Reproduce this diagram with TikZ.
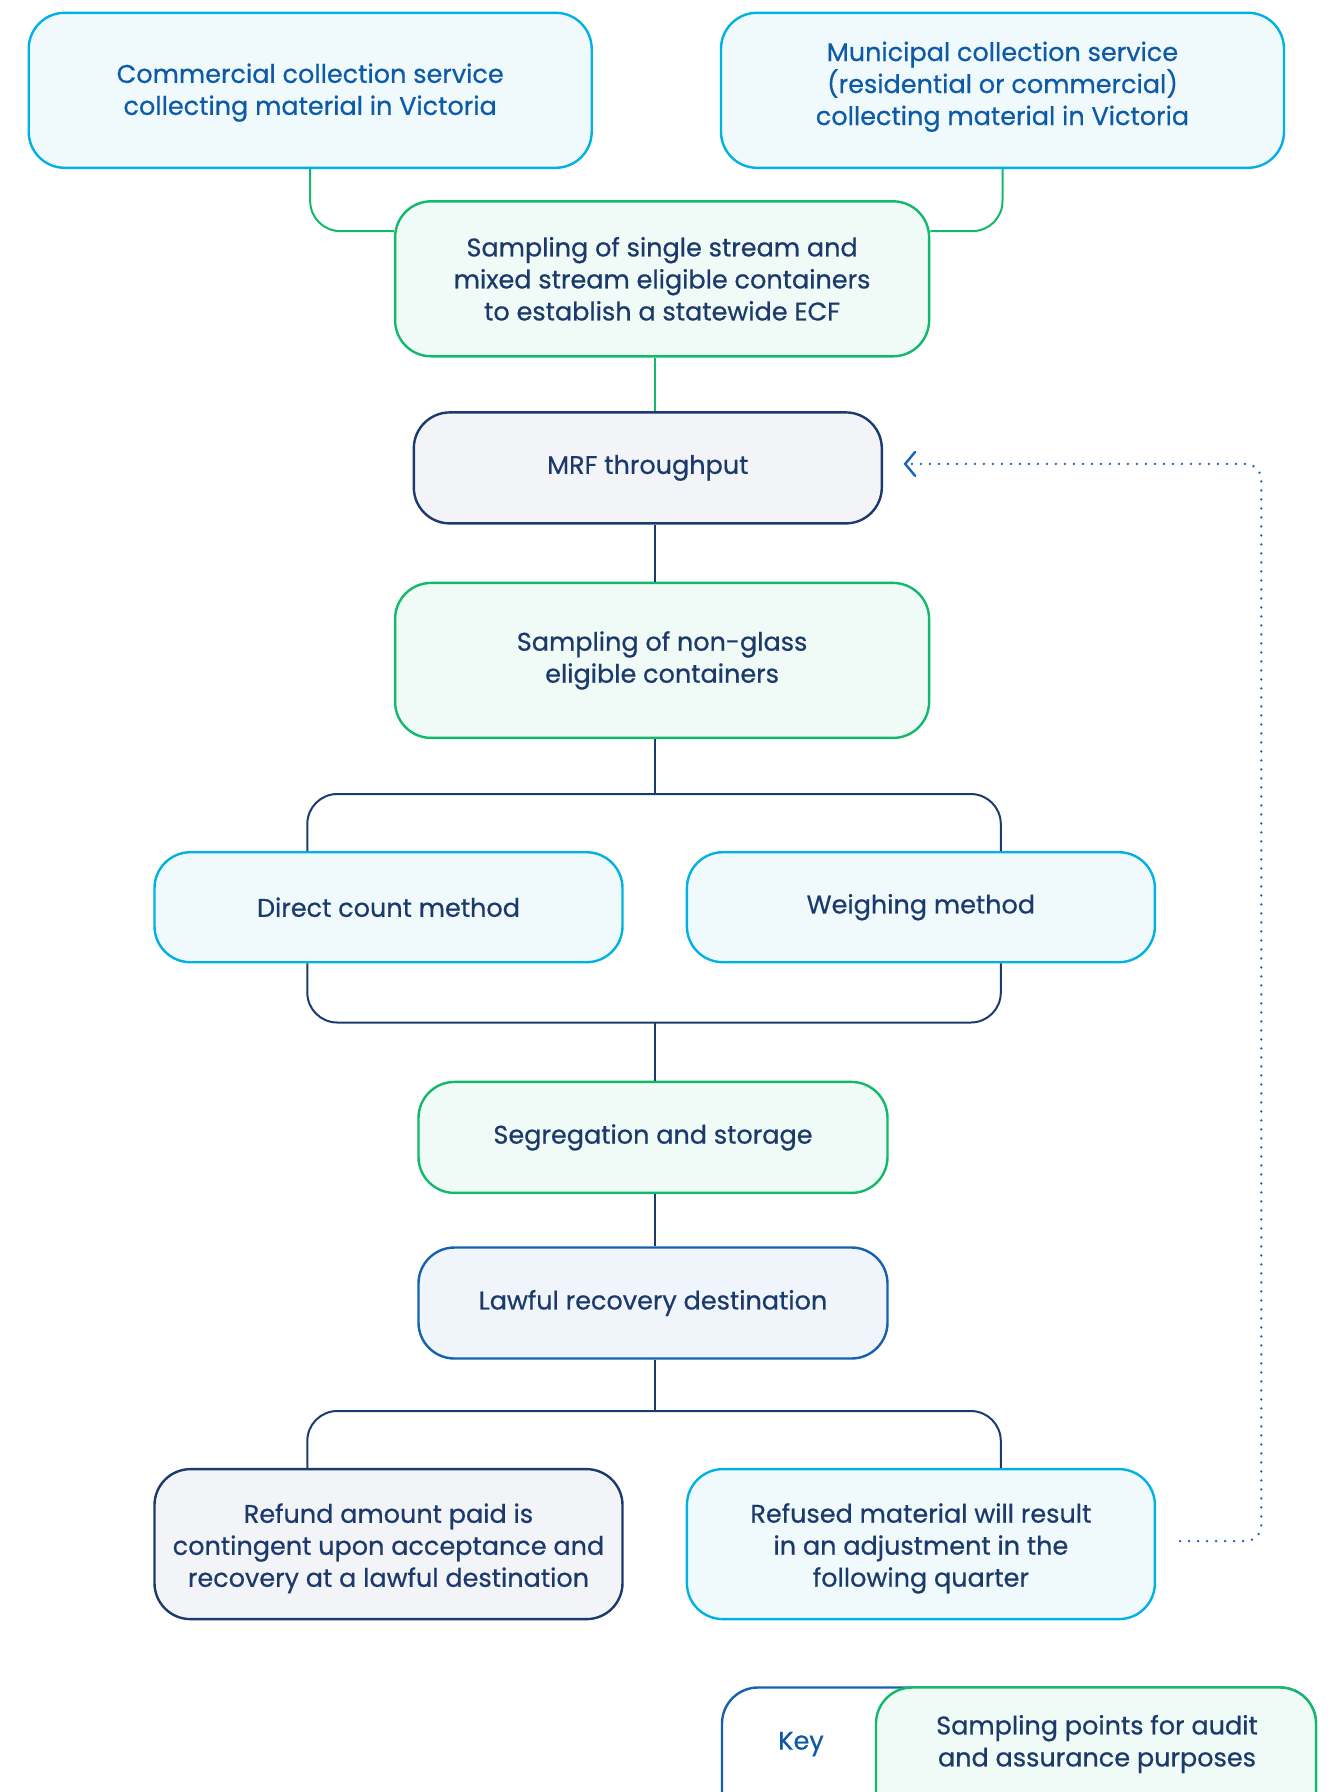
\documentclass[tikz,border=0pt]{standalone}
\usepackage{fontspec}
\setmainfont{Poppins}[FakeBold=0.6]
\usetikzlibrary{arrows.meta,calc}
\definecolor{cyanB}{HTML}{00B2E3}
\definecolor{cyanF}{HTML}{F0FAFD}
\definecolor{greenB}{HTML}{10BA6A}
\definecolor{greenF}{HTML}{F0FAF6}
\definecolor{navyB}{HTML}{1B3B6F}
\definecolor{navyF}{HTML}{F2F4F8}
\definecolor{blueB}{HTML}{1462B0}
\definecolor{blueF}{HTML}{EFF5FB}
\definecolor{txtN}{HTML}{1B3A6B}
\definecolor{txtB}{HTML}{0D5AA7}
\definecolor{dotB}{HTML}{1565C0}
\tikzset{
  box/.style={rounded corners=36pt, line width=2.4pt, align=center, inner sep=0pt,
    font=\fontsize{25.5}{32}\selectfont, text=txtN},
  cyanbox/.style={box, draw=cyanB, fill=cyanF},
  greenbox/.style={box, draw=greenB, fill=greenF},
  navybox/.style={box, draw=navyB, fill=navyF},
  bluebox/.style={box, draw=blueB, fill=blueF},
  conn/.style={draw=navyB, line width=2pt, rounded corners=30pt},
  gconn/.style={draw=greenB, line width=2pt, rounded corners=30pt},
  dotconn/.style={draw=dotB, line width=2.6pt, line cap=round, dash pattern=on 0pt off 9pt, rounded corners=16pt},
  lbl/.style={font=\fontsize{25.5}{32}\selectfont, text=txtN, align=center, inner sep=0pt}
}
\begin{document}
\begin{tikzpicture}[x=1pt,y=-1pt]
\useasboundingbox (0,0) rectangle (1331,1792);
% coordinates
\coordinate (trunk) at (654.6,0);
\coordinate (brL) at (307.3,0);
\coordinate (brR) at (1000.8,0);
\coordinate (xr) at (1261.3,0);
% boxes
\node[cyanbox, text=txtB, minimum width=563pt, minimum height=155pt] (com) at (310.2,90.3)
  {\rule{0pt}{24pt}Commercial collection service\\collecting material in Victoria};
\node[cyanbox, text=txtB, minimum width=563pt, minimum height=155pt] (mun) at (1002.5,90.3)
  {Municipal collection service\\(residential or commercial)\\collecting material in Victoria\rule[-14pt]{0pt}{14pt}};
\node[greenbox, minimum width=534pt, minimum height=155pt] (ss) at (662.1,278.8)
  {Sampling of single stream and\\mixed stream eligible containers\\to establish a statewide ECF};
\node[navybox, minimum width=468pt, minimum height=111pt] (mrf) at (647.8,467.9)
  {MRF throughput};
\node[greenbox, minimum width=534pt, minimum height=155pt] (ng) at (662.1,660.4)
  {Sampling of non-glass\\eligible containers};
\node[cyanbox, minimum width=468pt, minimum height=110pt] (dc) at (388.5,907.2)
  {Direct count method};
\node[cyanbox, minimum width=468pt, minimum height=110pt] (wm) at (920.9,907.2)
  {Weighing method};
\node[greenbox, minimum width=469pt, minimum height=111pt] (seg) at (653.0,1137.4)
  {Segregation and storage};
\node[bluebox, minimum width=469pt, minimum height=111pt] (law) at (653.0,1303.0)
  {Lawful recovery destination};
\node[navybox, minimum width=468pt, minimum height=150pt] (ref) at (388.5,1544.1)
  {\rule{0pt}{28pt}Refund amount paid is\\contingent upon acceptance and\\recovery at a lawful destination};
\node[cyanbox, minimum width=468pt, minimum height=150pt] (rfs) at (920.9,1544.1)
  {\rule{0pt}{28pt}Refused material will result\\in an adjustment in the\\following quarter};
% top connectors
\draw[gconn] (com.south) |- ($(ss.north west)+(0,31)$);
\draw[gconn] (mun.south) |- ($(ss.north east)+(0,31)$);
\draw[gconn, rounded corners=0pt] (ss.south -| trunk) -- (mrf.north -| trunk);
\draw[conn, rounded corners=0pt] (mrf.south -| trunk) -- (ng.north -| trunk);
% bracket 1
\coordinate (b1) at (654.6,794.0);
\draw[conn, rounded corners=0pt] (ng.south -| trunk) -- (b1);
\draw[conn] (dc.north -| brL) |- (b1) -| (wm.north -| brR);
% bracket 2
\coordinate (b2) at (654.6,1022.5);
\draw[conn] (dc.south -| brL) |- (b2) -| (wm.south -| brR);
\draw[conn, rounded corners=0pt] (b2) -- (seg.north -| trunk);
\draw[conn, rounded corners=0pt] (seg.south -| trunk) -- (law.north -| trunk);
% bracket 3
\coordinate (b3) at (654.6,1411.0);
\draw[conn, rounded corners=0pt] (law.south -| trunk) -- (b3);
\draw[conn] (ref.north -| brL) |- (b3) -| (rfs.north -| brR);
% dotted feedback
\coordinate (ds) at ($(rfs.east)+(24,-3)$);
\coordinate (de) at ($(mrf.east)+(20.6,-4)$);
\draw[dotconn, -{Straight Barb[length=10pt,width=24pt,line width=2.4pt,line cap=round]}]
  (ds) -- (ds -| xr) -- (de -| xr) -- (de);
% key
\node[draw=blueB, fill=white, line width=2.4pt, rounded corners=36pt, minimum width=594pt, minimum height=150pt, inner sep=0pt] (keyo) at (1019,1762.5) {};
\node[greenbox, minimum width=440pt, minimum height=150pt] (keyg) at (1096,1762.5) {};
\node[lbl, text=txtB] (keyt) at (801,1744) {Key};
\node[lbl] (keys) at (1097,1744) {Sampling points for audit\\and assurance purposes};
\end{tikzpicture}
\end{document}
